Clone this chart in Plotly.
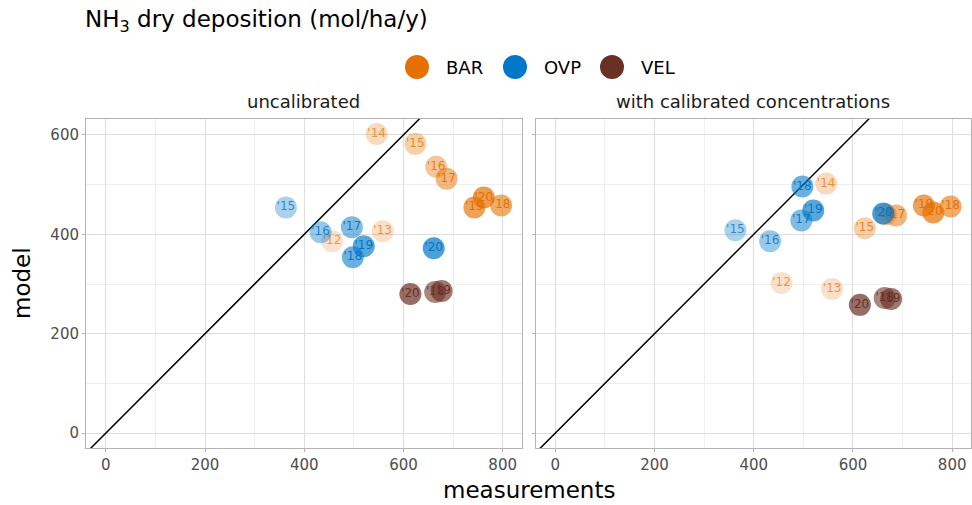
import plotly.graph_objects as go

# ---------------- data ----------------
sites = ["BAR", "OVP", "VEL"]
site_colors = {"BAR": (229, 112, 0), "OVP": (0, 119, 200), "VEL": (106, 48, 36)}

bar_years = [12, 13, 14, 15, 16, 17, 18, 19, 20]
bar_meas = [456, 558, 546, 624, 666, 687, 797, 743, 762]
bar_model_uncal = [386, 406, 602, 582, 536, 512, 458, 454, 474]
bar_model_cal = [302, 290, 502, 412, 440, 438, 456, 458, 444]

ovp_years = [15, 16, 17, 18, 19, 20]
ovp_meas = [363, 433, 496, 498, 520, 661]
ovp_model_uncal = [454, 404, 414, 354, 376, 372]
ovp_model_cal = [408, 386, 428, 496, 448, 442]

vel_years = [18, 19, 20]
vel_meas = [664, 677, 614]
vel_model_uncal = [284, 286, 280]
vel_model_cal = [272, 270, 258]

panel_titles = ["uncalibrated", "with calibrated concentrations"]
x_ticks = [0, 200, 400, 600, 800]
y_ticks = [0, 200, 400, 600]

site_data = {
    "BAR": (bar_years, bar_meas, bar_model_uncal, bar_model_cal),
    "OVP": (ovp_years, ovp_meas, ovp_model_uncal, ovp_model_cal),
    "VEL": (vel_years, vel_meas, vel_model_uncal, vel_model_cal),
}

# year -> alpha (lighter for older years)
alpha_map = {12: 0.2, 13: 0.22, 14: 0.25, 15: 0.33, 16: 0.4, 17: 0.5, 18: 0.58, 19: 0.65, 20: 0.7}

# ---------------- layout geometry ----------------
W, H = 972, 505
ML, MR, MT, MB = 86, 1, 119, 57
PW = W - ML - MR
PH = H - MT - MB
gap = 14
panel_w = (PW - gap) / 2
dom1 = [0, panel_w / PW]
dom2 = [(panel_w + gap) / PW, 1]

XR = [-40, 838]
YR = [-30, 632]

fig = go.Figure()

def rgba(c, a):
    return f"rgba({c[0]},{c[1]},{c[2]},{a})"

for pi, (xa, ya) in enumerate([("x", "y"), ("x2", "y2")]):
    # 1:1 line
    fig.add_trace(go.Scatter(x=[XR[0] - 50, XR[1] + 50], y=[XR[0] - 50, XR[1] + 50],
                             mode="lines", line=dict(color="black", width=1.5),
                             xaxis=xa, yaxis=ya, showlegend=False, hoverinfo="skip"))
    for s in sites:
        yrs, meas, mu, mc = site_data[s]
        model = mu if pi == 0 else mc
        c = site_colors[s]
        cols = [rgba(c, alpha_map[y]) for y in yrs]
        tcols = [rgba(c, min(1.0, alpha_map[y] + 0.45)) for y in yrs]
        fig.add_trace(go.Scatter(
            x=meas, y=model, mode="markers+text",
            text=[f"'{y:02d}" for y in yrs], textposition="middle center",
            textfont=dict(family="DejaVu Sans", size=12, color=tcols),
            marker=dict(size=22, color=cols, line=dict(width=0)),
            xaxis=xa, yaxis=ya, showlegend=False, name=s, cliponaxis=False))

axis_common = dict(
    range=XR, showgrid=True, gridcolor="#dedede", gridwidth=1, zeroline=False,
    showline=True, linecolor="#b3b3b3", linewidth=1, mirror=True,
    ticks="outside", ticklen=3, tickcolor="#b3b3b3",
    tickfont=dict(family="DejaVu Sans", size=15, color="#4d4d4d"),
    minor=dict(dtick=100, tick0=0, showgrid=True, gridcolor="#efefef", gridwidth=1),
)

fig.update_layout(
    width=W, height=H,
    margin=dict(l=ML, r=MR, t=MT, b=MB),
    paper_bgcolor="white", plot_bgcolor="white",
    xaxis=dict(domain=dom1, tickvals=x_ticks, **axis_common),
    xaxis2=dict(domain=dom2, tickvals=x_ticks, anchor="y2", **axis_common),
    yaxis=dict(domain=[0, 1], tickvals=y_ticks, **{**axis_common, "range": YR}),
    yaxis2=dict(domain=[0, 1], tickvals=y_ticks, anchor="x2", showticklabels=False,
                **{**axis_common, "range": YR}),
    showlegend=False,
    font=dict(family="DejaVu Sans"),
)

def px_to_paper_x(px):
    return (px - ML) / PW

def py_to_paper_y(py):
    return (H - MB - py) / PH

annotations = []
# title
annotations.append(dict(text="NH<sub>3</sub> dry deposition (mol/ha/y)", xref="paper", yref="paper",
                        x=px_to_paper_x(83), y=py_to_paper_y(21), xanchor="left", yanchor="middle",
                        showarrow=False, font=dict(family="DejaVu Sans", size=23, color="black")))
# strip titles
for i, dom in enumerate([dom1, dom2]):
    annotations.append(dict(text=panel_titles[i], xref="paper", yref="paper",
                            x=(dom[0] + dom[1]) / 2, y=py_to_paper_y(101), xanchor="center",
                            yanchor="middle", showarrow=False,
                            font=dict(family="DejaVu Sans", size=18, color="#1a1a1a")))
# axis titles
annotations.append(dict(text="measurements", xref="paper", yref="paper",
                        x=px_to_paper_x(529), y=py_to_paper_y(490), xanchor="center", yanchor="middle",
                        showarrow=False, font=dict(family="DejaVu Sans", size=23, color="black")))
annotations.append(dict(text="model", xref="paper", yref="paper", textangle=-90,
                        x=px_to_paper_x(22), y=py_to_paper_y(283), xanchor="center", yanchor="middle",
                        showarrow=False, font=dict(family="DejaVu Sans", size=23, color="black")))

# legend (manual)
shapes = []
legend_px = [417, 515, 612]
for s, lx in zip(sites, legend_px):
    c = site_colors[s]
    xp = px_to_paper_x(lx)
    yp = py_to_paper_y(67)
    shapes.append(dict(type="circle", xref="paper", yref="paper", xsizemode="pixel", ysizemode="pixel",
                       xanchor=xp, yanchor=yp, x0=-12, x1=12, y0=-12, y1=12,
                       fillcolor=rgba(c, 1), line=dict(width=0)))
    annotations.append(dict(text=s, xref="paper", yref="paper", x=px_to_paper_x(lx + 27), y=yp,
                            xanchor="left", yanchor="middle", showarrow=False,
                            font=dict(family="DejaVu Sans", size=18, color="black")))

fig.update_layout(annotations=annotations, shapes=shapes)
fig.write_html("out.html")
